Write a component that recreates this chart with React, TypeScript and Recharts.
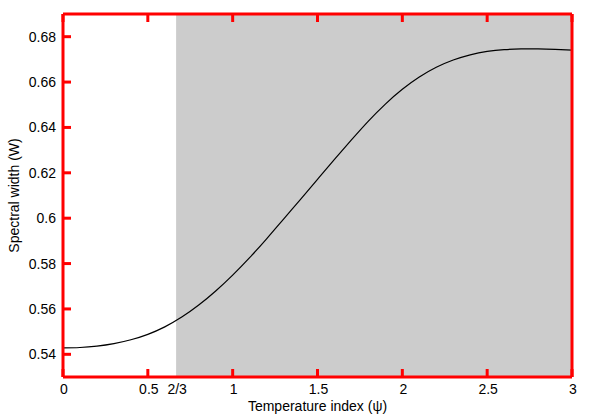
import React from "react";
import { LineChart, Line, XAxis, YAxis, ReferenceArea, Label } from "recharts";

// spectral width W versus temperature index psi
const psiValues = [0, 0.1, 0.2, 0.3, 0.4, 0.5, 0.6, 0.7, 0.8, 0.9, 1.0, 1.1, 1.2, 1.3, 1.4, 1.5, 1.6, 1.7, 1.8, 1.9, 2.0, 2.1, 2.2, 2.3, 2.4, 2.5, 2.6, 2.7, 2.8, 2.9, 3.0];
const widthValues = [
  0.5428, 0.543, 0.5436, 0.5447, 0.5464, 0.5488, 0.5521, 0.5564, 0.5617, 0.5679, 0.5749,
  0.5826, 0.5909, 0.5996, 0.6083, 0.6171, 0.6259, 0.6345, 0.6428, 0.6503, 0.6568,
  0.6622, 0.6665, 0.6697, 0.672, 0.6735, 0.6743, 0.6746, 0.6746, 0.6744, 0.6741,
];

const xTicks = [0, 0.5, 2 / 3, 1, 1.5, 2, 2.5, 3];
const yTicks = [0.54, 0.56, 0.58, 0.6, 0.62, 0.64, 0.66, 0.68];
const xDomain = [0, 3];
const yDomain = [0.53, 0.69];
const shadeFrom = 2 / 3;

const data = psiValues.map((psi, i) => ({ psi, w: widthValues[i] }));

const FONT = "'Liberation Sans', Arial, Helvetica, sans-serif";
const FRAME = "red";
const TICK_LEN = 8;

const isTwoThirds = (v: number) => Math.abs(v - 2 / 3) < 1e-6;
const fmtX = (v: number) => (isTwoThirds(v) ? "2/3" : String(v));

const BottomTick = ({ x, y, payload }: any) => (
  <g>
    {!isTwoThirds(payload.value) && (
      <line x1={x} y1={y} x2={x} y2={y - TICK_LEN} stroke={FRAME} strokeWidth={3} />
    )}
    <text x={x + 1} y={y + 17} textAnchor="middle" fontSize={14} fontFamily={FONT} fill="#000">
      {fmtX(payload.value)}
    </text>
  </g>
);

const TopTick = ({ x, y, payload }: any) =>
  isTwoThirds(payload.value) ? (
    <g />
  ) : (
    <line x1={x} y1={y} x2={x} y2={y + TICK_LEN} stroke={FRAME} strokeWidth={3} />
  );

const LeftTick = ({ x, y, payload }: any) => (
  <g>
    <line x1={x} y1={y} x2={x + TICK_LEN} y2={y} stroke={FRAME} strokeWidth={3} />
    <text x={x - 7} y={y} dy="0.36em" textAnchor="end" fontSize={14} fontFamily={FONT} fill="#000">
      {String(payload.value)}
    </text>
  </g>
);

const RightTick = ({ x, y }: any) => (
  <line x1={x} y1={y} x2={x - TICK_LEN} y2={y} stroke={FRAME} strokeWidth={3} />
);

const YTitle = ({ viewBox }: any) => (
  <text
    transform={`translate(${viewBox.x + 14},${viewBox.y + viewBox.height / 2}) rotate(-90)`}
    textAnchor="middle"
    dy="0.36em"
    fontSize={14}
    fontFamily={FONT}
    fill="#000"
  >
    Spectral width (W)
  </text>
);

export default function App() {
  return (
    <div style={{ position: "absolute", left: 0, top: 0 }}>
      <LineChart width={593} height={415} data={data} margin={{ top: 13, right: 20, left: 0, bottom: 0 }}>
        <ReferenceArea
          xAxisId="b"
          yAxisId="l"
          x1={shadeFrom}
          x2={xDomain[1]}
          fill="#cccccc"
          fillOpacity={1}
        />
        <XAxis
          xAxisId="b"
          dataKey="psi"
          type="number"
          domain={xDomain}
          ticks={xTicks}
          interval={0}
          height={38}
          tickSize={0}
          tickMargin={0}
          tickLine={false}
          axisLine={{ stroke: FRAME, strokeWidth: 3 }}
          tick={<BottomTick />}
        >
          <Label
            value="Temperature index (ψ)"
            position="insideBottom"
            offset={4}
            style={{ fontSize: 14, fontFamily: FONT, fill: "#000" }}
          />
        </XAxis>
        <XAxis
          xAxisId="t"
          orientation="top"
          dataKey="psi"
          type="number"
          domain={xDomain}
          ticks={xTicks}
          height={1}
          tickSize={0}
          tickMargin={0}
          tickLine={false}
          axisLine={{ stroke: FRAME, strokeWidth: 3 }}
          tick={<TopTick />}
        />
        <YAxis
          yAxisId="l"
          type="number"
          domain={yDomain}
          ticks={yTicks}
          interval={0}
          width={63}
          tickSize={0}
          tickMargin={0}
          tickLine={false}
          axisLine={{ stroke: FRAME, strokeWidth: 3 }}
          tick={<LeftTick />}
        >
          <Label content={<YTitle />} />
        </YAxis>
        <YAxis
          yAxisId="r"
          orientation="right"
          type="number"
          domain={yDomain}
          ticks={yTicks}
          interval={0}
          width={1}
          tickSize={0}
          tickMargin={0}
          tickLine={false}
          axisLine={{ stroke: FRAME, strokeWidth: 3 }}
          tick={<RightTick />}
        />
        <Line
          xAxisId="b"
          yAxisId="l"
          dataKey="w"
          type="natural"
          stroke="#000"
          strokeWidth={1.2}
          dot={false}
          activeDot={false}
          isAnimationActive={false}
        />
      </LineChart>
    </div>
  );
}
